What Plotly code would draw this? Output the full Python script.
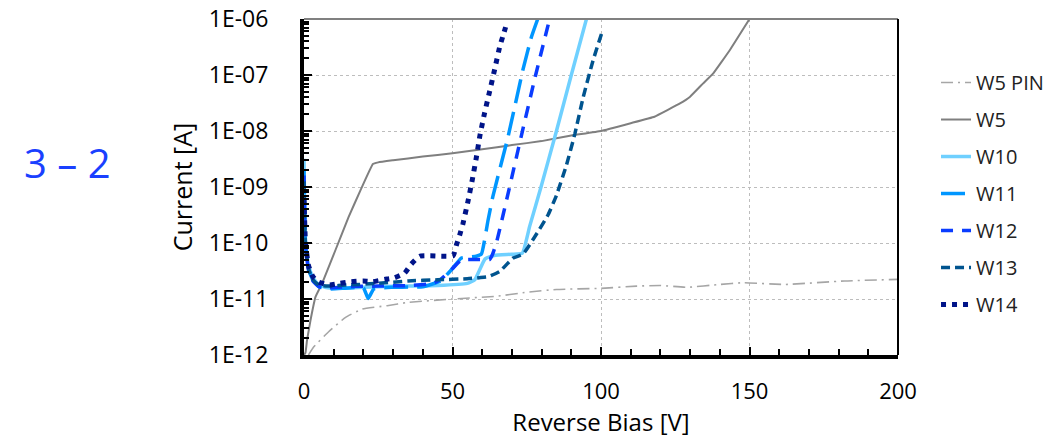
import plotly.graph_objects as go

# ---------------- data ----------------
v_w5pin = [1.5, 3.3, 8.3, 14, 19.6, 28, 35, 50, 65, 75, 85, 100, 112, 120, 129, 140, 148, 162, 182, 200]
i_w5pin = [1.0e-12, 1.4e-12, 2.6e-12, 4.7e-12, 6.6e-12, 7.6e-12, 8.7e-12, 1.0e-11, 1.12e-11, 1.32e-11,
           1.48e-11, 1.55e-11, 1.7e-11, 1.74e-11, 1.62e-11, 1.82e-11, 1.95e-11, 1.82e-11, 2.1e-11, 2.24e-11]

v_w5 = [0, 0.5, 1, 2.2, 3.9, 6.1, 10.6, 15, 19, 23.2, 25, 30, 40, 50, 60, 70, 80, 90, 100, 110, 118, 126.6,
        130, 134.4, 137.8, 143.4, 150]
i_w5 = [1.0e-12, 1.1e-12, 1.8e-12, 4.2e-12, 1.1e-11, 1.9e-11, 7.5e-11, 2.9e-10, 8.7e-10, 2.57e-9, 2.75e-9,
        3.0e-9, 3.5e-9, 4.0e-9, 4.7e-9, 5.6e-9, 6.6e-9, 8.3e-9, 1.0e-8, 1.38e-8, 1.8e-8, 3.1e-8,
        4.1e-8, 7.1e-8, 1.07e-7, 2.8e-7, 1.0e-6]

v_w10 = [0, 0.5, 1.5, 3, 5, 8, 15, 25, 35, 45, 55, 57.5, 59, 61, 64, 70, 73.5, 76, 79.8, 85, 90, 95.1]
i_w10 = [3.2e-9, 1.12e-10, 4.0e-11, 2.4e-11, 1.78e-11, 1.58e-11, 1.58e-11, 1.66e-11, 1.7e-11, 1.74e-11,
         1.9e-11, 2.2e-11, 3.2e-11, 5.2e-11, 6.0e-11, 6.3e-11, 6.6e-11, 2.0e-10, 1.0e-9, 1.0e-8, 1.0e-7, 1.0e-6]

v_w11 = [0, 0.5, 1.5, 3, 5, 8, 15, 20, 21.6, 23.5, 30, 40, 46, 50, 53, 58, 59.7, 62, 63.6, 68.7, 73.7,
         76.6, 78.7]
i_w11 = [2.0e-9, 1.0e-10, 3.5e-11, 2.2e-11, 1.66e-11, 1.51e-11, 1.58e-11, 1.58e-11, 1.02e-11, 1.51e-11,
         1.62e-11, 1.66e-11, 2.1e-11, 3.5e-11, 5.4e-11, 5.8e-11, 6.3e-11, 2.6e-10, 6.8e-10, 7.9e-9,
         1.23e-7, 4.8e-7, 1.0e-6]

v_w12 = [0, 0.5, 1.5, 3, 5, 8, 15, 25, 35, 43.4, 46, 50, 53, 57, 62.5, 63.5, 65, 69, 73.2, 78, 82.7]
i_w12 = [1.6e-9, 8.9e-11, 3.3e-11, 2.1e-11, 1.66e-11, 1.58e-11, 1.66e-11, 1.7e-11, 1.74e-11, 1.9e-11,
         2.24e-11, 3.5e-11, 5.0e-11, 5.1e-11, 5.1e-11, 6.3e-11, 1.12e-10, 8.9e-10, 8.3e-9, 1.0e-7, 1.0e-6]

v_w13 = [0, 0.5, 1.5, 3, 5, 8, 15, 25, 35, 45, 55, 59, 62, 65.9, 70.4, 73.7, 77.7, 82.2, 85, 88.4,
         91.2, 94.0, 97.3, 100.2]
i_w13 = [1.26e-9, 8.9e-11, 3.5e-11, 2.2e-11, 1.78e-11, 1.7e-11, 1.78e-11, 1.9e-11, 2.1e-11, 2.2e-11,
         2.3e-11, 2.4e-11, 2.5e-11, 3.1e-11, 5.4e-11, 6.3e-11, 1.29e-10, 3.2e-10, 7.1e-10, 2.5e-9,
         8.9e-9, 4.0e-8, 1.8e-7, 5.5e-7]

v_w14 = [0, 0.5, 1.5, 3, 5, 8.6, 12, 15.9, 19.8, 23.2, 27.1, 30.5, 33.9, 36.1, 38.9, 42.5, 46.2, 50.2,
         51.3, 52.4, 53.5, 55.2, 56.7, 58, 59.2, 60.8, 62.5, 64.2, 65.9, 67, 68.1]
i_w14 = [6.3e-10, 1.0e-10, 4.0e-11, 2.5e-11, 2.0e-11, 1.78e-11, 1.9e-11, 2.04e-11, 2.1e-11, 2.04e-11,
         2.24e-11, 2.4e-11, 2.9e-11, 4.2e-11, 5.8e-11, 5.9e-11, 5.8e-11, 5.9e-11, 9.1e-11, 1.38e-10,
         2.2e-10, 5.5e-10, 1.38e-9, 3.3e-9, 8.1e-9, 2.1e-8, 5.1e-8, 1.26e-7, 3.2e-7, 5.0e-7, 7.8e-7]

y_tickvals = [1e-12, 1e-11, 1e-10, 1e-9, 1e-8, 1e-7, 1e-6]
y_ticktext = ["1E-12", "1E-11", "1E-10", "1E-09", "1E-08", "1E-07", "1E-06"]
x_tickvals = [0, 50, 100, 150, 200]

FONT = "Open Sans"

series = [
    ("W5 PIN", v_w5pin, i_w5pin, "#a6a6a6", 1.6, "12px,5px,2px,5px", 0.4),
    ("W5", v_w5, i_w5, "#7f7f7f", 2.0, "solid", 0.25),
    ("W10", v_w10, i_w10, "#6fd0ff", 3.5, "solid", 0.4),
    ("W11", v_w11, i_w11, "#0096ff", 3.5, "24px,9px", 0.4),
    ("W12", v_w12, i_w12, "#0a3cff", 3.5, "12px,9px", 0.4),
    ("W13", v_w13, i_w13, "#00548f", 3.5, "9px,5px", 0.4),
    ("W14", v_w14, i_w14, "#001489", 5.0, "5px,6px", 0.4),
]

fig = go.Figure()
for k, (name, vx, iy, col, w, dash, sm) in enumerate(series):
    fig.add_trace(go.Scatter(
        x=vx, y=iy, mode="lines", name=name, legendgroup="g%d" % k,
        line=dict(color=col, width=w, dash=dash, shape="spline", smoothing=sm),
    ))

minor_y = [m * 10.0 ** e for e in range(-12, -6) for m in range(2, 10)]

fig.update_layout(
    width=1046, height=444,
    margin=dict(l=304, r=148, t=19, b=89, autoexpand=False),
    paper_bgcolor="white", plot_bgcolor="white",
    font=dict(family=FONT, color="black", size=22),
    showlegend=True,
    legend=dict(
        x=1.064, xanchor="left", y=0.869, yanchor="top",
        font=dict(family=FONT, size=20, color="#222222"),
        tracegroupgap=8, bgcolor="rgba(0,0,0,0)",
    ),
    xaxis=dict(
        range=[0, 200], tickmode="array", tickvals=x_tickvals,
        showline=True, linecolor="black", linewidth=4,
        ticks="inside", ticklen=8, tickwidth=2, tickcolor="black",
        minor=dict(dtick=10, ticks="inside", ticklen=6, tickwidth=2, tickcolor="black", showgrid=False),
        showgrid=True, gridcolor="#bdbdbd", gridwidth=1, griddash="dot",
        zeroline=False, tickfont=dict(size=22, family=FONT), ticklabelstandoff=14,
        title=dict(text="Reverse Bias [V]", font=dict(size=24, family=FONT), standoff=6),
    ),
    yaxis=dict(
        type="log", range=[-12, -6], tickmode="array", tickvals=y_tickvals, ticktext=y_ticktext,
        showline=True, linecolor="black", linewidth=4,
        ticks="inside", ticklen=8, tickwidth=2, tickcolor="black",
        minor=dict(tickmode="array", tickvals=minor_y, ticks="inside", ticklen=5, tickwidth=2,
                   tickcolor="black", showgrid=False),
        showgrid=True, gridcolor="#bdbdbd", gridwidth=1, griddash="dot",
        zeroline=False, tickfont=dict(size=23, family=FONT), ticklabelstandoff=27,
        title=dict(text="Current [A]", font=dict(size=25, family=FONT), standoff=10),
    ),
    shapes=[
        dict(type="line", xref="paper", yref="paper", x0=0, x1=1, y0=1, y1=1,
             line=dict(color="#808080", width=2)),
        dict(type="line", xref="paper", yref="paper", x0=1, x1=1, y0=0, y1=1,
             line=dict(color="black", width=2)),
    ],
    annotations=[
        dict(text="3 – 2", xref="paper", yref="paper", x=-0.398, y=0.573,
             xanchor="center", yanchor="middle", showarrow=False,
             font=dict(family=FONT, size=40, color="#1a40ff")),
    ],
)

fig.write_html("out.html")
